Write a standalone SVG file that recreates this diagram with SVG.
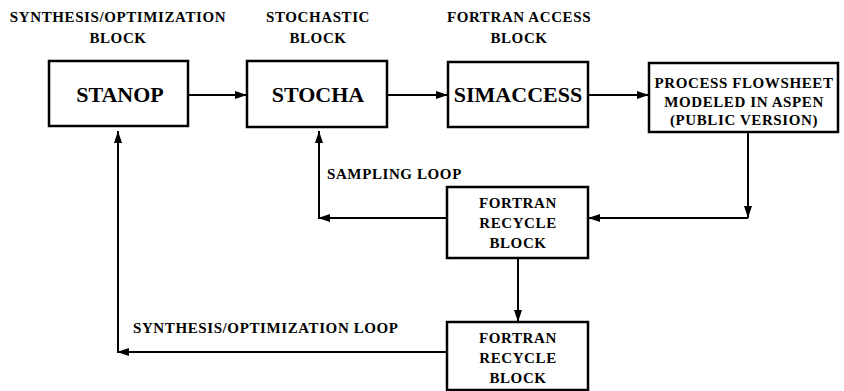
<svg xmlns="http://www.w3.org/2000/svg" width="844" height="391" viewBox="0 0 844 391">
<style>
.box{fill:#fff;stroke:#000;stroke-width:2.5}
.big{font-family:"Liberation Serif","Times New Roman",serif;font-weight:bold;font-size:22px;text-anchor:middle;fill:#000}
.t{font-family:"Liberation Serif","Times New Roman",serif;font-weight:bold;font-size:15px;letter-spacing:0.6px;text-anchor:middle;fill:#000}
.l{font-family:"Liberation Serif","Times New Roman",serif;font-weight:bold;font-size:15px;letter-spacing:0.6px;fill:#000}
.c{fill:none;stroke:#000;stroke-width:2}
</style>
<defs>
<marker id="ah" viewBox="0 0 12 8" refX="12" refY="4" markerWidth="12" markerHeight="8" markerUnits="userSpaceOnUse" orient="auto">
<path d="M0,0 L12,4 L0,8 Z" fill="#000"/>
</marker>
</defs>
<g id="headers">
<text class="t" x="118" y="22">SYNTHESIS/OPTIMIZATION</text>
<text class="t" x="118" y="43">BLOCK</text>
<text class="t" x="318" y="22">STOCHASTIC</text>
<text class="t" x="318" y="43">BLOCK</text>
<text class="t" x="519" y="22">FORTRAN ACCESS</text>
<text class="t" x="519" y="43">BLOCK</text>
</g>
<g id="stanop">
<rect class="box" x="49" y="61" width="139" height="65"/>
<text class="big" x="120" y="102">STANOP</text>
</g>
<g id="stocha">
<rect class="box" x="247" y="61" width="140" height="66"/>
<text class="big" x="318" y="102">STOCHA</text>
</g>
<g id="simaccess">
<rect class="box" x="448" y="62" width="140" height="65"/>
<text class="big" x="518" y="102">SIMACCESS</text>
</g>
<g id="process">
<rect class="box" x="649" y="63" width="189" height="69"/>
<text class="t" x="744" y="88">PROCESS FLOWSHEET</text>
<text class="t" x="744" y="107">MODELED IN ASPEN</text>
<text class="t" x="744" y="125">(PUBLIC VERSION)</text>
</g>
<g id="recycle1">
<rect class="box" x="447" y="187" width="141" height="71"/>
<text class="t" x="518" y="208">FORTRAN</text>
<text class="t" x="518" y="228">RECYCLE</text>
<text class="t" x="518" y="248">BLOCK</text>
</g>
<g id="recycle2">
<rect class="box" x="447" y="322" width="141" height="68"/>
<text class="t" x="518" y="343">FORTRAN</text>
<text class="t" x="518" y="363">RECYCLE</text>
<text class="t" x="518" y="383">BLOCK</text>
</g>
<g id="connectors">
<line class="c" x1="188" y1="95" x2="247" y2="95" marker-end="url(#ah)"/>
<line class="c" x1="387" y1="95" x2="448" y2="95" marker-end="url(#ah)"/>
<line class="c" x1="588" y1="95" x2="649" y2="95" marker-end="url(#ah)"/>
<line class="c" x1="748" y1="132" x2="748" y2="218" marker-end="url(#ah)"/>
<line class="c" x1="748" y1="218" x2="588" y2="218" marker-end="url(#ah)"/>
<line class="c" x1="447" y1="218" x2="318" y2="218" marker-end="url(#ah)"/>
<line class="c" x1="319" y1="218" x2="319" y2="131" marker-end="url(#ah)"/>
<line class="c" x1="518" y1="258" x2="518" y2="322" marker-end="url(#ah)"/>
<line class="c" x1="447" y1="352" x2="117" y2="352" marker-end="url(#ah)"/>
<line class="c" x1="118" y1="352" x2="118" y2="131" marker-end="url(#ah)"/>
<text class="l" x="327" y="179">SAMPLING LOOP</text>
<text class="l" x="133" y="333">SYNTHESIS/OPTIMIZATION LOOP</text>
</g>
</svg>
